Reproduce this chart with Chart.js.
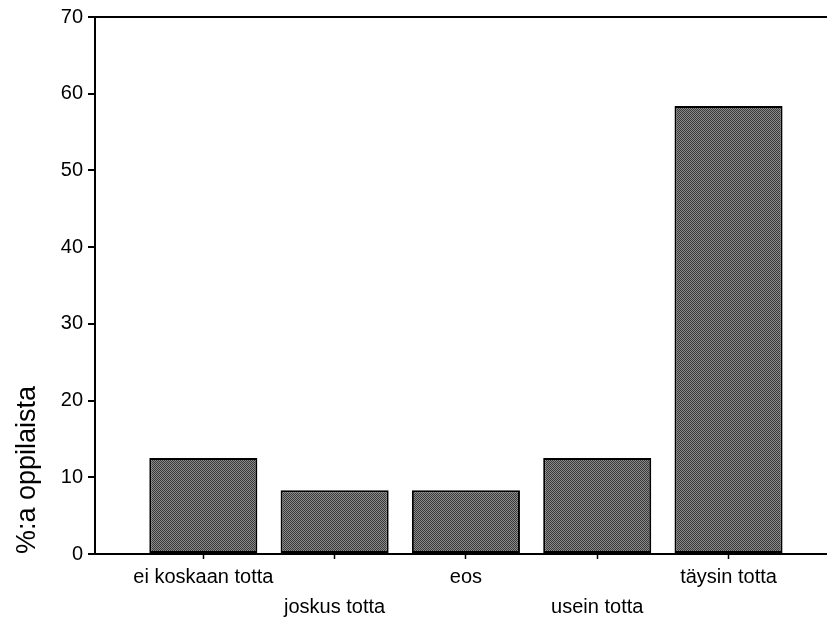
<!DOCTYPE html>
<html>
<head>
<meta charset="utf-8">
<script src="https://cdn.jsdelivr.net/npm/chart.js@4/dist/chart.umd.min.js"></script>
<style>
  html, body { margin: 0; padding: 0; background: #fff; }
  #wrap { width: 827px; height: 623px; position: relative; }
</style>
</head>
<body>
<div id="wrap"><canvas id="chart"></canvas></div>
<script>
// data
const categories = ['ei koskaan totta', 'joskus totta', 'eos', 'usein totta', 'täysin totta'];
const percents = [12.5, 8.3, 8.3, 12.5, 58.4];
const yTicks = [0, 10, 20, 30, 40, 50, 60, 70];
const yTitle = '%:a oppilaista';

// halftone-ish grey fill like the scanned bars
function makePattern() {
  const c = document.createElement('canvas');
  c.width = 2; c.height = 2;
  const g = c.getContext('2d');
  g.fillStyle = '#8a8a8a';
  g.fillRect(0, 0, 2, 2);
  g.fillStyle = '#3a3a3a';
  g.fillRect(0, 0, 1, 1);
  g.fillRect(1, 1, 1, 1);
  return g.createPattern(c, 'repeat');
}

const font = { family: "'Liberation Sans', Arial, sans-serif", size: 20 };

new Chart(document.getElementById('chart'), {
  type: 'bar',
  data: {
    datasets: [{
      data: percents.map((v, i) => ({ x: i + 1, y: v })),
      backgroundColor: makePattern(),
      borderColor: '#000',
      borderWidth: 2,
      borderSkipped: false,
      barPercentage: 0.823,
      categoryPercentage: 1
    }]
  },
  options: {
    responsive: true,
    maintainAspectRatio: false,
    devicePixelRatio: 1,
    animation: false,
    layout: { padding: { left: 0, top: 15, right: 0, bottom: 0 } },
    plugins: {
      legend: { display: false },
      tooltip: { enabled: false }
    },
    scales: {
      x: {
        type: 'linear',
        min: 0.175,
        max: 5.75,
        offset: false,
        afterFit: (scale) => { scale.height = 69; },
        border: { display: true, color: '#000', width: 2 },
        grid: { offset: false, drawOnChartArea: false, tickLength: 5, tickColor: '#000', tickWidth: 1.5 },
        ticks: {
          stepSize: 1,
          includeBounds: false,
          autoSkip: false,
          maxRotation: 0,
          padding: 3,
          color: '#000',
          font: { ...font, lineHeight: 1.5 },
          callback: (value) => {
            const label = categories[value - 1];
            if (label === undefined) return '';
            return (value % 2 === 0) ? ['', label] : label;
          }
        }
      },
      y: {
        min: yTicks[0],
        max: yTicks[yTicks.length - 1],
        afterFit: (scale) => { scale.width = 95; },
        afterBuildTicks: (scale) => { scale.ticks = yTicks.map(v => ({ value: v })); },
        border: { display: true, color: '#000', width: 2 },
        grid: {
          color: (ctx) => ctx.tick && ctx.tick.value === 70 ? '#000' : 'rgba(0,0,0,0)',
          lineWidth: 2,
          tickLength: 7,
          tickColor: '#000',
          tickWidth: 2
        },
        ticks: {
          padding: 5,
          color: '#000',
          font: font
        },
        title: {
          display: true,
          text: yTitle,
          align: 'start',
          color: '#000',
          font: { family: font.family, size: 27 },
          padding: { top: 11, bottom: 0 }
        }
      }
    }
  }
});
</script>
</body>
</html>
